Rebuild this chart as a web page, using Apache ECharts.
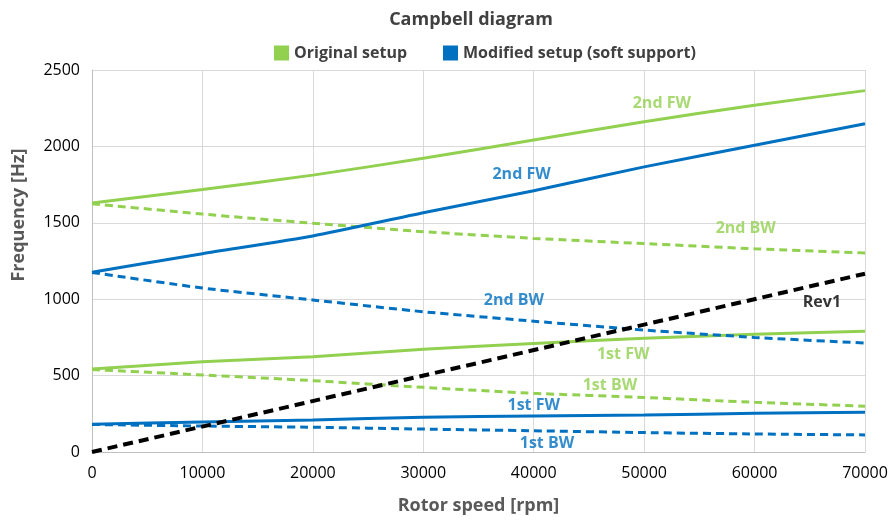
<!DOCTYPE html>
<html>
<head>
<meta charset="utf-8">
<script src="https://cdn.jsdelivr.net/npm/echarts@6/dist/echarts.min.js"></script>
<style>
html,body{margin:0;padding:0;background:#fff;}
#chart{width:891px;height:521px;}
</style>
</head>
<body>
<div id="chart"></div>
<script>
// ---- data ----
const rpm = [0, 10000, 20000, 30000, 40000, 50000, 60000, 70000];
const orig2ndFW = [1630, 1718, 1812, 1922, 2042, 2162, 2270, 2365];
const orig2ndBW = [1625, 1557, 1497, 1442, 1398, 1364, 1330, 1303];
const orig1stFW = [543, 590, 624, 672, 710, 744, 770, 790];
const orig1stBW = [540, 504, 467, 423, 384, 357, 325, 300];
const mod2ndFW = [1176, 1298, 1414, 1566, 1710, 1866, 2008, 2148];
const mod2ndBW = [1175, 1073, 995, 918, 856, 798, 750, 713];
const mod1stFW = [182, 197, 209, 228, 236, 242, 253, 260];
const mod1stBW = [180, 170, 162, 150, 139, 127, 118, 112];
const rev1Rpm = [0, 70000];
const rev1Hz = [0, 1167];
const xTicks = [0, 10000, 20000, 30000, 40000, 50000, 60000, 70000];
const yTicks = [0, 500, 1000, 1500, 2000, 2500];

// annotation labels: [text, rpm, Hz, group]
const labelText = ['2nd FW', '2nd FW', '2nd BW', '2nd BW', 'Rev1', '1st FW', '1st BW', '1st FW', '1st BW'];
const labelRpm  = [51600, 38900, 59200, 38200, 66100, 48100, 46900, 40000, 41200];
const labelHz   = [2284, 1819, 1464, 990, 977, 641, 434, 303, 57];
const labelGrp  = ['orig', 'mod', 'orig', 'mod', 'rev', 'orig', 'orig', 'mod', 'mod'];

const GREEN = '#92D050', BLUE = '#0070C0', BLACK = '#000000';
const FONT = '"Open Sans"';
const zip = (xs, ys) => xs.map((x, i) => [x, ys[i]]);

function lineSeries(name, color, xs, ys, dashed) {
  return {
    type: 'line', name: name, data: zip(xs, ys), showSymbol: false, symbol: 'none',
    smooth: 0.2,
    itemStyle: {color: color},
    lineStyle: {color: color, width: 3, type: dashed ? [8, 5] : 'solid'},
    z: 3
  };
}
function labelSeries(grp, color) {
  const data = [];
  labelText.forEach((t, i) => { if (labelGrp[i] === grp) data.push({value: [labelRpm[i], labelHz[i]], name: t}); });
  return {
    type: 'scatter', name: 'lbl_' + grp, symbolSize: 0, data: data, silent: true, z: 5,
    label: {show: true, position: 'inside', formatter: p => p.name, color: color,
            fontFamily: FONT, fontWeight: 'bold', fontSize: 16}
  };
}

const chart = echarts.init(document.getElementById('chart'));
chart.setOption({
  animation: false,
  backgroundColor: '#ffffff',
  title: {
    text: 'Campbell diagram', left: 466, top: 6, textAlign: 'center',
    textStyle: {fontFamily: FONT, fontWeight: 'bold', fontSize: 18, color: '#404040'}
  },
  legend: {
    data: ['Original setup', 'Modified setup (soft support)'],
    top: 40, left: 269, icon: 'rect', itemWidth: 15, itemHeight: 15, itemGap: 36,
    textStyle: {fontFamily: FONT, fontWeight: 'bold', fontSize: 16, color: '#404040'}
  },
  graphic: [{
    type: 'text', x: 19, y: 215, rotation: Math.PI / 2, silent: true,
    style: {text: 'Frequency [Hz]', fontFamily: FONT, fontWeight: 'bold', fontSize: 18,
            fill: '#595959', align: 'center', verticalAlign: 'middle'}
  }],
  grid: {left: 92, right: 26, top: 70, bottom: 69, containLabel: false},
  xAxis: {
    type: 'value', min: 0, max: 70000, interval: 10000,
    name: 'Rotor speed [rpm]', nameLocation: 'middle', nameGap: 45,
    nameTextStyle: {fontFamily: FONT, fontWeight: 'bold', fontSize: 18, color: '#595959'},
    axisLine: {show: true, lineStyle: {color: '#BFBFBF', width: 1}},
    axisTick: {show: false},
    axisLabel: {fontFamily: FONT, fontSize: 16, color: '#000000', margin: 13,
                formatter: v => String(v)},
    splitLine: {show: true, lineStyle: {color: '#D9D9D9', width: 1}}
  },
  yAxis: {
    type: 'value', min: 0, max: 2500, interval: 500,
    axisLine: {show: true, lineStyle: {color: '#BFBFBF', width: 1}},
    axisTick: {show: false},
    axisLabel: {fontFamily: FONT, fontSize: 16, color: '#000000', margin: 12,
                formatter: v => String(v)},
    splitLine: {show: true, lineStyle: {color: '#D9D9D9', width: 1}}
  },
  series: [
    lineSeries('Original setup', GREEN, rpm, orig2ndFW, false),
    lineSeries('Original setup', GREEN, rpm, orig2ndBW, true),
    lineSeries('Original setup', GREEN, rpm, orig1stFW, false),
    lineSeries('Original setup', GREEN, rpm, orig1stBW, true),
    lineSeries('Modified setup (soft support)', BLUE, rpm, mod2ndFW, false),
    lineSeries('Modified setup (soft support)', BLUE, rpm, mod2ndBW, true),
    lineSeries('Modified setup (soft support)', BLUE, rpm, mod1stFW, false),
    lineSeries('Modified setup (soft support)', BLUE, rpm, mod1stBW, true),
    {
      type: 'line', name: 'Rev1', data: zip(rev1Rpm, rev1Hz), showSymbol: false, symbol: 'none',
      itemStyle: {color: BLACK},
      lineStyle: {color: BLACK, width: 4, type: [10, 6]}, z: 4
    },
    labelSeries('orig', GREEN),
    labelSeries('mod', BLUE),
    labelSeries('rev', BLACK)
  ]
});
</script>
</body>
</html>
